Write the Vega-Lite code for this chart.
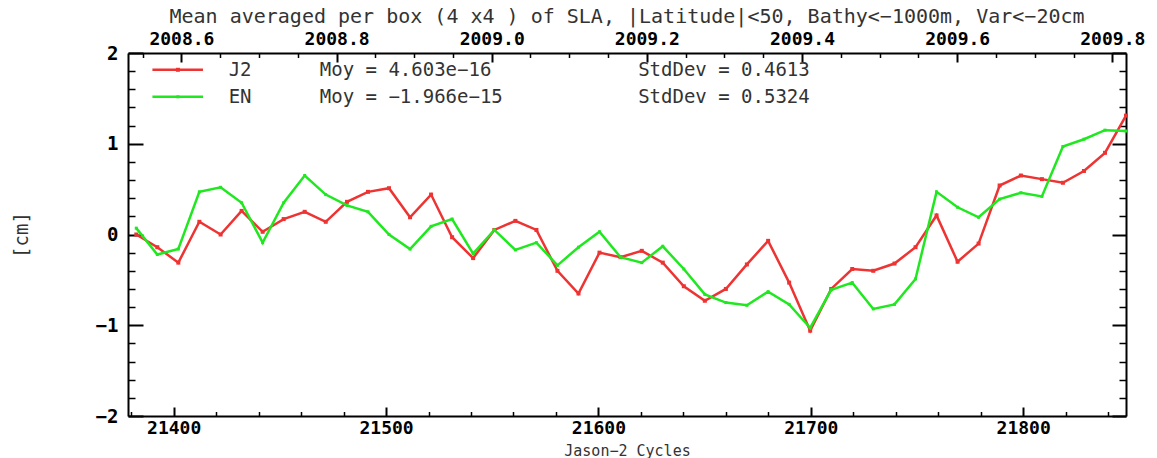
{
  "$schema": "https://vega.github.io/schema/vega-lite/v6.json",
  "width": 998,
  "height": 363,
  "autosize": {"type": "none"},
  "padding": {"left": 128, "top": 53, "right": 31, "bottom": 42},
  "background": "white",
  "title": {
    "text": "Mean averaged per box (4 x4 ) of SLA, |Latitude|<50, Bathy<−1000m, Var<−20cm",
    "font": "DejaVu Sans Mono",
    "fontSize": 20,
    "fontWeight": "normal",
    "color": "#333333",
    "anchor": "middle",
    "offset": 3
  },
  "config": {
    "view": {"stroke": null},
    "axis": {
      "grid": false,
      "labelFont": "DejaVu Sans Mono",
      "labelFontWeight": "bold",
      "labelFontSize": 19,
      "labelColor": "black",
      "domainColor": "black",
      "tickColor": "black",
      "labelFlush": false,
      "labelOverlap": false,
      "labelBound": false,
      "titleFont": "DejaVu Sans Mono",
      "titleFontWeight": "normal",
      "titleFontSize": 19,
      "titleColor": "#333333"
    }
  },
  "datasets": {
    "sla": [
      {"day": 21382.4, "series": "J2", "sla": 0.00},
      {"day": 21392.3, "series": "J2", "sla": -0.14},
      {"day": 21402.2, "series": "J2", "sla": -0.31},
      {"day": 21412.1, "series": "J2", "sla": 0.14},
      {"day": 21422.1, "series": "J2", "sla": 0.00},
      {"day": 21432.0, "series": "J2", "sla": 0.26},
      {"day": 21441.9, "series": "J2", "sla": 0.03},
      {"day": 21451.8, "series": "J2", "sla": 0.17},
      {"day": 21461.7, "series": "J2", "sla": 0.25},
      {"day": 21471.6, "series": "J2", "sla": 0.14},
      {"day": 21481.6, "series": "J2", "sla": 0.36},
      {"day": 21491.5, "series": "J2", "sla": 0.47},
      {"day": 21501.4, "series": "J2", "sla": 0.51},
      {"day": 21511.3, "series": "J2", "sla": 0.19},
      {"day": 21521.2, "series": "J2", "sla": 0.44},
      {"day": 21531.1, "series": "J2", "sla": -0.03},
      {"day": 21541.0, "series": "J2", "sla": -0.26},
      {"day": 21551.0, "series": "J2", "sla": 0.05},
      {"day": 21560.9, "series": "J2", "sla": 0.15},
      {"day": 21570.8, "series": "J2", "sla": 0.05},
      {"day": 21580.7, "series": "J2", "sla": -0.40},
      {"day": 21590.6, "series": "J2", "sla": -0.65},
      {"day": 21600.5, "series": "J2", "sla": -0.20},
      {"day": 21610.4, "series": "J2", "sla": -0.25},
      {"day": 21620.4, "series": "J2", "sla": -0.18},
      {"day": 21630.3, "series": "J2", "sla": -0.31},
      {"day": 21640.2, "series": "J2", "sla": -0.57},
      {"day": 21650.1, "series": "J2", "sla": -0.73},
      {"day": 21660.0, "series": "J2", "sla": -0.60},
      {"day": 21669.9, "series": "J2", "sla": -0.33},
      {"day": 21679.9, "series": "J2", "sla": -0.07},
      {"day": 21689.8, "series": "J2", "sla": -0.53},
      {"day": 21699.7, "series": "J2", "sla": -1.06},
      {"day": 21709.6, "series": "J2", "sla": -0.60},
      {"day": 21719.5, "series": "J2", "sla": -0.38},
      {"day": 21729.4, "series": "J2", "sla": -0.40},
      {"day": 21739.4, "series": "J2", "sla": -0.32},
      {"day": 21749.3, "series": "J2", "sla": -0.14},
      {"day": 21759.2, "series": "J2", "sla": 0.21},
      {"day": 21769.1, "series": "J2", "sla": -0.30},
      {"day": 21779.0, "series": "J2", "sla": -0.10},
      {"day": 21788.9, "series": "J2", "sla": 0.54},
      {"day": 21798.9, "series": "J2", "sla": 0.65},
      {"day": 21808.8, "series": "J2", "sla": 0.61},
      {"day": 21818.7, "series": "J2", "sla": 0.57},
      {"day": 21828.6, "series": "J2", "sla": 0.70},
      {"day": 21838.5, "series": "J2", "sla": 0.90},
      {"day": 21848.4, "series": "J2", "sla": 1.31},
      {"day": 21382.4, "series": "EN", "sla": 0.07},
      {"day": 21392.3, "series": "EN", "sla": -0.22},
      {"day": 21402.2, "series": "EN", "sla": -0.16},
      {"day": 21412.1, "series": "EN", "sla": 0.47},
      {"day": 21422.1, "series": "EN", "sla": 0.52},
      {"day": 21432.0, "series": "EN", "sla": 0.35},
      {"day": 21441.9, "series": "EN", "sla": -0.09},
      {"day": 21451.8, "series": "EN", "sla": 0.35},
      {"day": 21461.7, "series": "EN", "sla": 0.65},
      {"day": 21471.6, "series": "EN", "sla": 0.44},
      {"day": 21481.6, "series": "EN", "sla": 0.32},
      {"day": 21491.5, "series": "EN", "sla": 0.25},
      {"day": 21501.4, "series": "EN", "sla": 0.00},
      {"day": 21511.3, "series": "EN", "sla": -0.16},
      {"day": 21521.2, "series": "EN", "sla": 0.09},
      {"day": 21531.1, "series": "EN", "sla": 0.17},
      {"day": 21541.0, "series": "EN", "sla": -0.21},
      {"day": 21551.0, "series": "EN", "sla": 0.05},
      {"day": 21560.9, "series": "EN", "sla": -0.17},
      {"day": 21570.8, "series": "EN", "sla": -0.09},
      {"day": 21580.7, "series": "EN", "sla": -0.34},
      {"day": 21590.6, "series": "EN", "sla": -0.14},
      {"day": 21600.5, "series": "EN", "sla": 0.03},
      {"day": 21610.4, "series": "EN", "sla": -0.25},
      {"day": 21620.4, "series": "EN", "sla": -0.31},
      {"day": 21630.3, "series": "EN", "sla": -0.13},
      {"day": 21640.2, "series": "EN", "sla": -0.38},
      {"day": 21650.1, "series": "EN", "sla": -0.66},
      {"day": 21660.0, "series": "EN", "sla": -0.75},
      {"day": 21669.9, "series": "EN", "sla": -0.78},
      {"day": 21679.9, "series": "EN", "sla": -0.63},
      {"day": 21689.8, "series": "EN", "sla": -0.77},
      {"day": 21699.7, "series": "EN", "sla": -1.03},
      {"day": 21709.6, "series": "EN", "sla": -0.61},
      {"day": 21719.5, "series": "EN", "sla": -0.53},
      {"day": 21729.4, "series": "EN", "sla": -0.82},
      {"day": 21739.4, "series": "EN", "sla": -0.77},
      {"day": 21749.3, "series": "EN", "sla": -0.49},
      {"day": 21759.2, "series": "EN", "sla": 0.47},
      {"day": 21769.1, "series": "EN", "sla": 0.30},
      {"day": 21779.0, "series": "EN", "sla": 0.19},
      {"day": 21788.9, "series": "EN", "sla": 0.39},
      {"day": 21798.9, "series": "EN", "sla": 0.46},
      {"day": 21808.8, "series": "EN", "sla": 0.42},
      {"day": 21818.7, "series": "EN", "sla": 0.97},
      {"day": 21828.6, "series": "EN", "sla": 1.05},
      {"day": 21838.5, "series": "EN", "sla": 1.15},
      {"day": 21848.4, "series": "EN", "sla": 1.14}
    ]
  },
  "resolve": {"axis": {"x": "independent", "y": "independent"}},
  "layer": [
    {
      "data": {"name": "sla"},
      "transform": [{"filter": "datum.series === 'J2'"}],
      "mark": {"type": "line", "color": "#ee3333", "strokeWidth": 2.5, "point": {"filled": true, "shape": "square", "size": 16, "color": "#ee3333"}},
      "encoding": {
        "x": {
          "field": "day", "type": "quantitative",
          "scale": {"domain": [21378.5, 21848.4], "nice": false, "zero": false},
          "axis": {
            "orient": "bottom", "values": [21400, 21500, 21600, 21700, 21800], "format": "d",
            "labelFontSize": 18,
            "tickSize": -9, "tickWidth": 2, "domainWidth": 2, "labelPadding": 12,
            "title": "Jason−2 Cycles", "titleFontSize": 15, "titleY": 34, "titleBaseline": "middle"
          }
        },
        "y": {
          "field": "sla", "type": "quantitative",
          "scale": {"domain": [-2, 2], "nice": false, "zero": false},
          "axis": {
            "orient": "left", "values": [-2, -1, 0, 1, 2], "format": "d",
            "tickSize": -15, "tickWidth": 2, "domainWidth": 2, "labelPadding": 25,
            "title": "[cm]", "titleX": -107, "titleY": 181.5, "titleAngle": -90,
            "titleBaseline": "middle", "titleAlign": "center"
          }
        }
      }
    },
    {
      "data": {"name": "sla"},
      "transform": [{"filter": "datum.series === 'EN'"}],
      "mark": {"type": "line", "color": "#20e820", "strokeWidth": 2.5, "point": {"filled": true, "shape": "square", "size": 9, "color": "#20e820"}},
      "encoding": {
        "x": {
          "field": "day", "type": "quantitative",
          "axis": {
            "orient": "bottom",
            "values": [21380, 21420, 21440, 21460, 21480, 21520, 21540, 21560, 21580, 21620, 21640, 21660, 21680, 21720, 21740, 21760, 21780, 21820, 21840],
            "tickSize": -4.5, "tickWidth": 1.5, "labels": false, "domain": false, "title": null
          }
        },
        "y": {
          "field": "sla", "type": "quantitative",
          "axis": {
            "orient": "left",
            "values": [-1.8, -1.6, -1.4, -1.2, -0.8, -0.6, -0.4, -0.2, 0.2, 0.4, 0.6, 0.8, 1.2, 1.4, 1.6, 1.8],
            "tickSize": -7, "tickWidth": 1.5, "labels": false, "domain": false, "title": null
          }
        }
      }
    },
    {
      "data": {"name": "sla"},
      "mark": {"type": "point", "opacity": 0},
      "encoding": {
        "x": {
          "field": "day", "type": "quantitative",
          "axis": {
            "orient": "top",
            "values": [21403.65, 21476.70, 21549.75, 21622.80, 21695.85, 21768.90, 21841.95],
            "labelExpr": "format(1950 + datum.value / 365.25, '.1f')",
            "labelFontSize": 18,
            "tickSize": -9, "tickWidth": 2, "domainWidth": 2, "labelPadding": 14, "title": null
          }
        },
        "y": {
          "field": "sla", "type": "quantitative",
          "axis": {
            "orient": "right", "values": [-2, -1, 0, 1, 2],
            "tickSize": -14, "tickWidth": 2, "domainWidth": 2, "labels": false, "title": null
          }
        }
      }
    },
    {
      "data": {"name": "sla"},
      "mark": {"type": "point", "opacity": 0},
      "encoding": {
        "x": {
          "field": "day", "type": "quantitative",
          "axis": {
            "orient": "top",
            "values": [21385.39, 21421.91, 21440.18, 21458.44, 21494.96, 21513.23, 21531.49, 21568.01, 21586.28, 21604.54, 21641.06, 21659.33, 21677.59, 21714.11, 21732.38, 21750.64, 21787.16, 21805.43, 21823.69],
            "tickSize": -4.5, "tickWidth": 1.5, "labels": false, "domain": false, "title": null
          }
        },
        "y": {
          "field": "sla", "type": "quantitative",
          "axis": {
            "orient": "right",
            "values": [-1.8, -1.6, -1.4, -1.2, -0.8, -0.6, -0.4, -0.2, 0.2, 0.4, 0.6, 0.8, 1.2, 1.4, 1.6, 1.8],
            "tickSize": -7, "tickWidth": 1.5, "labels": false, "domain": false, "title": null
          }
        }
      }
    },
    {
      "data": {"values": [{}]},
      "mark": {"type": "rule", "color": "#ee3333", "strokeWidth": 2.5},
      "encoding": {
        "x": {"datum": 21390.0, "type": "quantitative", "axis": null},
        "x2": {"datum": 21413.8},
        "y": {"datum": 1.815, "type": "quantitative", "axis": null}
      }
    },
    {
      "data": {"values": [{}]},
      "mark": {"type": "point", "shape": "square", "filled": true, "size": 16, "color": "#ee3333", "opacity": 1},
      "encoding": {
        "x": {"datum": 21402.0, "type": "quantitative", "axis": null},
        "y": {"datum": 1.815, "type": "quantitative", "axis": null}
      }
    },
    {
      "data": {"values": [{}]},
      "mark": {"type": "rule", "color": "#20e820", "strokeWidth": 2.5},
      "encoding": {
        "x": {"datum": 21390.0, "type": "quantitative", "axis": null},
        "x2": {"datum": 21413.8},
        "y": {"datum": 1.517, "type": "quantitative", "axis": null}
      }
    },
    {
      "data": {"values": [{}]},
      "mark": {"type": "point", "shape": "square", "filled": true, "size": 9, "color": "#20e820", "opacity": 1},
      "encoding": {
        "x": {"datum": 21402.0, "type": "quantitative", "axis": null},
        "y": {"datum": 1.517, "type": "quantitative", "axis": null}
      }
    },
    {
      "data": {"values": [{}]},
      "mark": {"type": "text", "align": "left", "baseline": "middle", "font": "DejaVu Sans Mono", "fontSize": 19, "color": "#333333"},
      "encoding": {
        "x": {"datum": 21425.9, "type": "quantitative", "axis": null},
        "y": {"datum": 1.815, "type": "quantitative", "axis": null},
        "text": {"value": "J2"}
      }
    },
    {
      "data": {"values": [{}]},
      "mark": {"type": "text", "align": "left", "baseline": "middle", "font": "DejaVu Sans Mono", "fontSize": 19, "color": "#333333"},
      "encoding": {
        "x": {"datum": 21468.8, "type": "quantitative", "axis": null},
        "y": {"datum": 1.815, "type": "quantitative", "axis": null},
        "text": {"value": "Moy = 4.603e−16"}
      }
    },
    {
      "data": {"values": [{}]},
      "mark": {"type": "text", "align": "left", "baseline": "middle", "font": "DejaVu Sans Mono", "fontSize": 19, "color": "#333333"},
      "encoding": {
        "x": {"datum": 21618.7, "type": "quantitative", "axis": null},
        "y": {"datum": 1.815, "type": "quantitative", "axis": null},
        "text": {"value": "StdDev = 0.4613"}
      }
    },
    {
      "data": {"values": [{}]},
      "mark": {"type": "text", "align": "left", "baseline": "middle", "font": "DejaVu Sans Mono", "fontSize": 19, "color": "#333333"},
      "encoding": {
        "x": {"datum": 21425.9, "type": "quantitative", "axis": null},
        "y": {"datum": 1.517, "type": "quantitative", "axis": null},
        "text": {"value": "EN"}
      }
    },
    {
      "data": {"values": [{}]},
      "mark": {"type": "text", "align": "left", "baseline": "middle", "font": "DejaVu Sans Mono", "fontSize": 19, "color": "#333333"},
      "encoding": {
        "x": {"datum": 21468.8, "type": "quantitative", "axis": null},
        "y": {"datum": 1.517, "type": "quantitative", "axis": null},
        "text": {"value": "Moy = −1.966e−15"}
      }
    },
    {
      "data": {"values": [{}]},
      "mark": {"type": "text", "align": "left", "baseline": "middle", "font": "DejaVu Sans Mono", "fontSize": 19, "color": "#333333"},
      "encoding": {
        "x": {"datum": 21618.7, "type": "quantitative", "axis": null},
        "y": {"datum": 1.517, "type": "quantitative", "axis": null},
        "text": {"value": "StdDev = 0.5324"}
      }
    }
  ]
}
